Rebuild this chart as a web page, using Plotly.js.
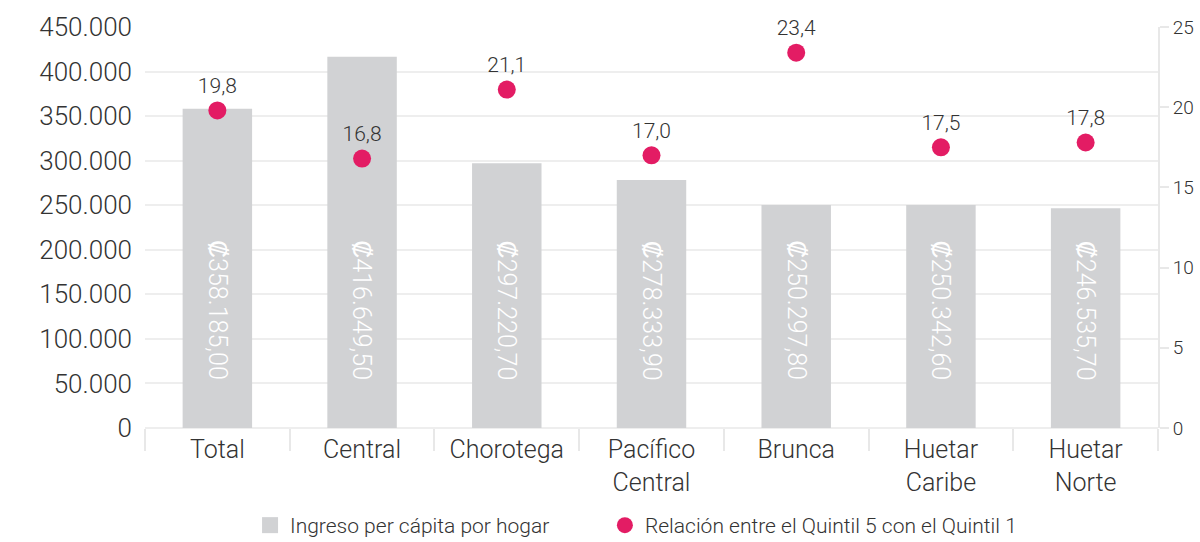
<!DOCTYPE html>
<html>
<head>
<meta charset="utf-8">
<script src="https://cdn.plot.ly/plotly-3.0.1.min.js"></script>
<style>html,body{margin:0;padding:0;background:#fff;}#chart{width:1200px;height:542px;}</style>
</head>
<body>
<div id="chart"></div>
<script>
var categories = ["Total", "Central", "Chorotega", "Pacífico<br>Central", "Brunca", "Huetar<br>Caribe", "Huetar<br>Norte"];
var ingreso = [358185.00, 416649.50, 297220.70, 278333.90, 250297.80, 250342.60, 246535.70];
var relacion = [19.8, 16.8, 21.1, 17.0, 23.4, 17.5, 17.8];
var seriesNames = ["Ingreso per cápita por hogar", "Relación entre el Quintil 5 con el Quintil 1"];

var FONT = "Roboto, 'Liberation Sans', sans-serif";
var TXT = "#333333";
var GRAY = "#d1d2d4";
var PINK = "#e31c64";
var GRID = "#eeeeee";

function fmtColones(v) {
  var parts = v.toFixed(2).split(".");
  var intPart = parts[0].replace(/\B(?=(\d{3})+(?!\d))/g, ".");
  return "₡" + intPart + "," + parts[1];
}

var barTrace = {
  type: "bar", x: categories, y: ingreso, name: seriesNames[0],
  marker: {color: GRAY}, showlegend: false, hoverinfo: "skip", yaxis: "y"
};
var legendSquare = {
  type: "scatter", mode: "markers", x: [null], y: [null], name: seriesNames[0],
  marker: {symbol: "square", size: 24, color: GRAY}, showlegend: true, yaxis: "y", legend: "legend"
};
var dotTrace = {
  type: "scatter", mode: "markers+text", x: categories, y: relacion, name: seriesNames[1],
  yaxis: "y2", marker: {color: PINK, size: 18}, legend: "legend2",
  texttemplate: "%{y:.1f}", textposition: "top center",
  textfont: {family: FONT, size: 21, color: TXT, weight: 300}, cliponaxis: false
};

var annotations = categories.map(function (c, i) {
  return {
    x: c, y: 132000, xref: "x", yref: "y", text: fmtColones(ingreso[i]),
    showarrow: false, textangle: 90, xanchor: "center", yanchor: "middle",
    font: {family: FONT, size: 25, color: "#ffffff", weight: 300}
  };
});

var legendFont = {family: FONT, size: 21, color: TXT, weight: 300};

var layout = {
  width: 1200, height: 542,
  margin: {l: 145, r: 42, t: 27, b: 114, autoexpand: false},
  paper_bgcolor: "#ffffff", plot_bgcolor: "#ffffff",
  separators: ",.",
  font: {family: FONT, color: TXT, weight: 300},
  bargap: 0.52,
  showlegend: true,
  legend: {
    orientation: "h", x: 0.1037, xanchor: "left", y: -0.192, yanchor: "top",
    font: legendFont, itemsizing: "trace"
  },
  legend2: {
    orientation: "h", x: 0.454, xanchor: "left", y: -0.192, yanchor: "top",
    font: legendFont, itemsizing: "trace"
  },
  xaxis: {
    type: "category", tickson: "boundaries", ticks: "outside", ticklen: 22,
    tickcolor: "#e8e8e8", tickwidth: 2, showgrid: false, showline: false,
    tickfont: {family: FONT, size: 25, color: TXT, weight: 300},
    ticklabelstandoff: 4, zeroline: false
  },
  yaxis: {
    range: [0, 450000], dtick: 50000, tickformat: ",d",
    showgrid: true, gridcolor: GRID, gridwidth: 2,
    zeroline: true, zerolinecolor: GRID, zerolinewidth: 2,
    ticks: "", showline: false,
    tickfont: {family: FONT, size: 26, color: TXT, weight: 300},
    ticklabelstandoff: 12
  },
  yaxis2: {
    overlaying: "y", side: "right", range: [0, 25], dtick: 5,
    showgrid: false, zeroline: false, showline: true, linecolor: "#e8e8e8", linewidth: 2,
    ticks: "outside", ticklen: 9, tickcolor: "#e8e8e8", tickwidth: 2,
    tickfont: {family: FONT, size: 19, color: TXT, weight: 300}
  },
  annotations: annotations
};

Plotly.newPlot("chart", [barTrace, legendSquare, dotTrace], layout, {displayModeBar: false, staticPlot: true});
</script>
</body>
</html>
